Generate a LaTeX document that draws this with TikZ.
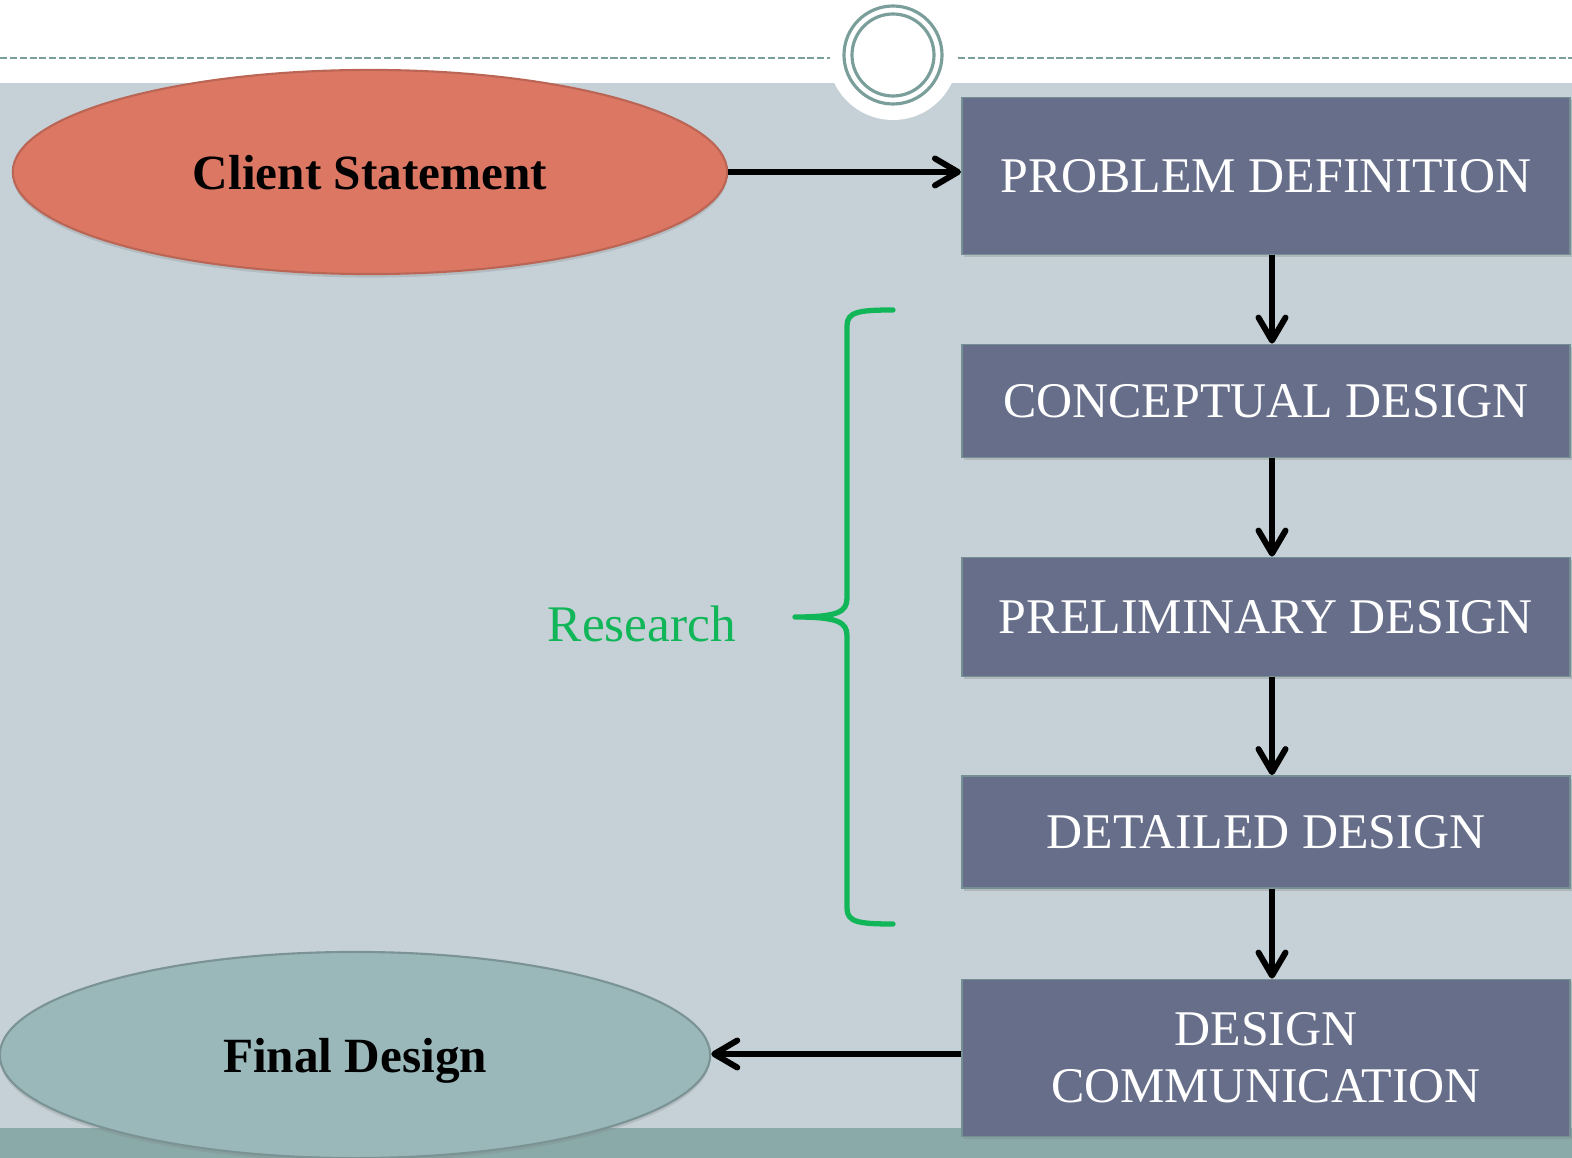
\documentclass[tikz,border=0pt]{standalone}
\usepackage{fontspec}
\setmainfont{Liberation Serif}
\usetikzlibrary{arrows.meta,shapes.geometric,shadows}
\definecolor{slide}{RGB}{197,209,215}
\definecolor{strip}{RGB}{138,170,170}
\definecolor{ring}{RGB}{122,158,154}
\definecolor{stagefill}{RGB}{103,110,138}
\definecolor{clientfill}{RGB}{220,119,100}
\definecolor{finalfill}{RGB}{154,184,185}
\definecolor{research}{RGB}{16,182,88}
\begin{document}
\begin{tikzpicture}[x=0.01cm,y=-0.01cm,
  stage/.style={rectangle,fill=stagefill,draw=ring!70!stagefill,line width=0.5pt,text=white,
    minimum width=6.08cm,align=center,font=\fontsize{14.2}{16.2}\selectfont,
    drop shadow={opacity=0.3,shadow xshift=0.6pt,shadow yshift=-0.8pt}},
  oval/.style={ellipse,inner sep=0pt,line width=0.6pt,text depth=0pt,font=\bfseries\fontsize{14}{17}\selectfont,
    drop shadow={opacity=0.25,shadow xshift=0pt,shadow yshift=-1pt}},
  flow/.style={line width=1.7pt,-{Straight Barb[length=2.3mm,width=2.7mm,round]}}]
\useasboundingbox (0,0) rectangle (1572,1158);

% slide background
\fill[white] (0,0) rectangle (1572,1158);
\fill[slide] (0,83) rectangle (1572,1128);
\fill[strip] (0,1128) rectangle (1572,1158);
\fill[white] (893,55) circle (65);
\draw[ring,line width=0.7pt,dash pattern=on 2pt off 0.8pt] (0,58) -- (830,58) (958,58) -- (1572,58);
\draw[ring,line width=0.9pt] (893,55) circle (49) (893,55) circle (41);

% design stages
\node[stage,minimum height=1.57cm] (problem) at (1266,176) {PROBLEM DEFINITION};
\node[stage,minimum height=1.13cm] (concept) at (1266,401) {CONCEPTUAL DESIGN};
\node[stage,minimum height=1.19cm] (prelim) at (1266,617) {PRELIMINARY DESIGN};
\node[stage,minimum height=1.12cm] (detail) at (1266,832) {DETAILED DESIGN};
\node[stage,minimum height=1.57cm] (comm) at (1266,1058) {DESIGN\\COMMUNICATION};

\node[oval,fill=clientfill,draw=clientfill!85!black,minimum width=7.14cm,minimum height=2.04cm] (client) at (370,172) {Client Statement};
\node[oval,fill=finalfill,draw=finalfill!80!black,minimum width=7.1cm,minimum height=2.06cm] (final) at (355,1055) {Final Design};

\node[text=research,font=\fontsize{14.6}{17}\selectfont] (research) at (642,624) {Research};

\draw[flow] (client.east) -- (client.east -| problem.west);
\draw[flow] ([xshift=0.06cm]problem.south) -- ([xshift=0.06cm]concept.north);
\draw[flow] ([xshift=0.06cm]concept.south) -- ([xshift=0.06cm]prelim.north);
\draw[flow] ([xshift=0.06cm]prelim.south) -- ([xshift=0.06cm]detail.north);
\draw[flow] ([xshift=0.06cm]detail.south) -- ([xshift=0.06cm]comm.north);
\draw[flow] ([yshift=0.04cm]comm.west) -- ([yshift=0.04cm]comm.west -| final.east);

% brace
\draw[research,line width=1.5pt,line cap=round,line join=round]
  (893,310) .. controls (858,310) and (847,312) .. (847,326) -- (847,598)
  .. controls (847,612) and (838,617) .. (795,617)
  .. controls (838,617) and (847,622) .. (847,636) -- (847,908)
  .. controls (847,922) and (858,924) .. (893,924);
\end{tikzpicture}
\end{document}
